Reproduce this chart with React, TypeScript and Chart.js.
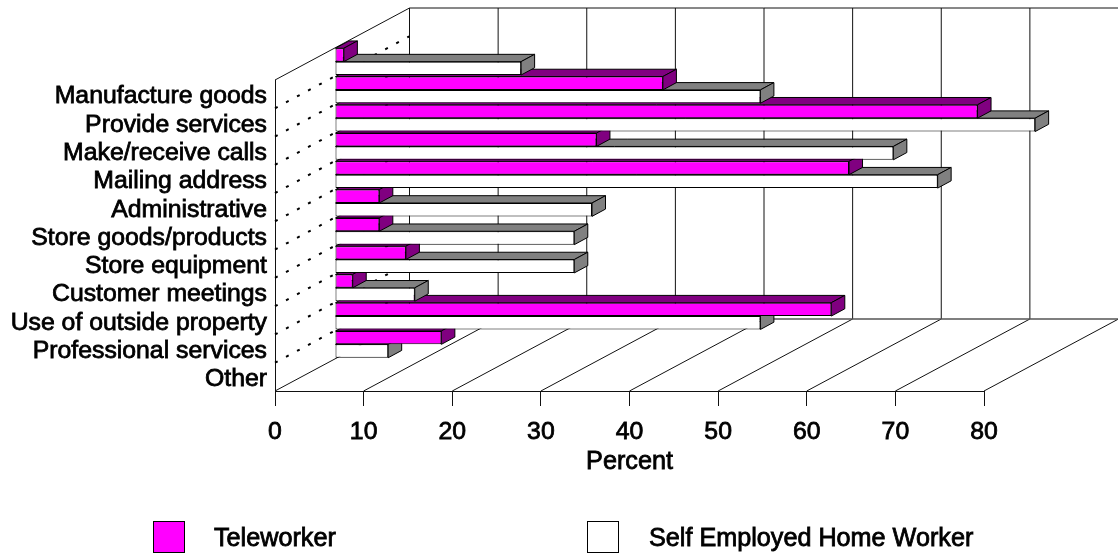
import React, { useEffect, useRef } from "react";
import { Chart, registerables } from "chart.js";

Chart.register(...registerables);

const categories = [
  "Manufacture goods",
  "Provide services",
  "Make/receive calls",
  "Mailing address",
  "Administrative",
  "Store goods/products",
  "Store equipment",
  "Customer meetings",
  "Use of outside property",
  "Professional services",
  "Other",
];
const teleworker = [1, 37, 72.5, 29.5, 58, 5, 5, 8, 2, 56, 12];
const selfEmployed = [21, 48, 79, 63, 68, 29, 27, 27, 9, 48, 6];
const seriesNames = ["Teleworker", "Self Employed Home Worker"];
const axisTitle = "Percent";
const xMax = 80;
const xStep = 10;

const FONT = "'Liberation Sans', Arial, sans-serif";
const FONT_SIZE = 24.8;
const TEXT_WEIGHT = 0.8;
const INK = "#000000";
const WALL_LINE = "#111111";
const TITLE_Y = 462.5;

// Oblique projection: how far the back wall sits from the front plane, and how
// far into that depth the bars are placed.
const DEPTH = { x: 134.5, y: -72 };
const BAR_SHIFT = { x: 60, y: -32.5 };
const BAR_DEPTH = { x: 13.5, y: -7.3 };

const faceColors = [
  { front: "#ff00ff", shade: "#800080" },
  { front: "#ffffff", shade: "#808080" },
];

function line(ctx: CanvasRenderingContext2D, x1: number, y1: number, x2: number, y2: number) {
  ctx.beginPath();
  ctx.moveTo(x1, y1);
  ctx.lineTo(x2, y2);
  ctx.stroke();
}

function face(ctx: CanvasRenderingContext2D, pts: number[][], fill: string) {
  ctx.beginPath();
  pts.forEach(([x, y], i) => (i ? ctx.lineTo(x, y) : ctx.moveTo(x, y)));
  ctx.closePath();
  ctx.fillStyle = fill;
  ctx.fill();
  ctx.strokeStyle = INK;
  ctx.lineWidth = 1;
  ctx.stroke();
}

const box3d = {
  id: "box3d",
  beforeDatasetsDraw(chart: any) {
    const { ctx, chartArea, scales } = chart;
    const { left, top, bottom } = chartArea;
    const backLeft = left + DEPTH.x;
    const backTop = top + DEPTH.y;
    const backBottom = bottom + DEPTH.y;

    ctx.save();
    ctx.strokeStyle = WALL_LINE;
    ctx.lineWidth = 1;

    // Left wall outline and the top edge of the back wall.
    line(ctx, left, top, backLeft, backTop);
    line(ctx, backLeft, backTop, chart.width, backTop);

    // Floor and back wall rulings, one per x tick.
    for (let v = 0; v <= xMax; v += xStep) {
      const px = scales.x.getPixelForValue(v);
      line(ctx, px, bottom, px + DEPTH.x, backBottom);
      if (v < xMax) line(ctx, px + DEPTH.x, backBottom, px + DEPTH.x, backTop);
    }
    ctx.strokeStyle = "#555555";
    ctx.lineWidth = 1.5;
    line(ctx, backLeft, backBottom, chart.width, backBottom);

    // Dashed category separators running across the left wall.
    ctx.strokeStyle = INK;
    ctx.lineWidth = 2;
    ctx.setLineDash([3, 9.5]);
    const rowHeight = (bottom - top) / categories.length;
    for (let k = 1; k < categories.length; k++) {
      const y = top + k * rowHeight;
      line(ctx, left, y, backLeft, y + DEPTH.y);
    }
    ctx.setLineDash([]);

    // Everything that belongs to the bars is shifted back to their depth.
    ctx.translate(BAR_SHIFT.x, BAR_SHIFT.y);
    const metas = [chart.getDatasetMeta(0), chart.getDatasetMeta(1)];
    for (let i = categories.length - 1; i >= 0; i--) {
      for (const ds of [1, 0]) {
        const bar = metas[ds].data[i];
        const t = bar.y - bar.height / 2;
        const b = bar.y + bar.height / 2;
        const dx = BAR_DEPTH.x;
        const dy = BAR_DEPTH.y;
        const shade = faceColors[ds].shade;
        face(ctx, [[bar.base, t], [bar.base + dx, t + dy], [bar.x + dx, t + dy], [bar.x, t]], shade);
        face(ctx, [[bar.x, t], [bar.x + dx, t + dy], [bar.x + dx, b + dy], [bar.x, b]], shade);
      }
    }
    // Left open until afterDatasetsDraw so the library's bars share the shift.
  },
  afterDatasetsDraw(chart: any) {
    chart.ctx.restore();
  },
  afterDraw(chart: any) {
    const { ctx } = chart;
    ctx.save();
    ctx.font = `25.2px ${FONT}`;
    ctx.textBaseline = "middle";
    ctx.strokeStyle = INK;

    // Axis title gets the same slight weight as the tick labels.
    ctx.lineWidth = TEXT_WEIGHT;
    ctx.textAlign = "center";
    ctx.strokeText(axisTitle, (chart.chartArea.left + chart.chartArea.right) / 2, TITLE_Y);
    ctx.textAlign = "left";

    // Legend row.
    const entries = [
      { swatch: 153, text: 214 },
      { swatch: 587, text: 649 },
    ];
    entries.forEach((e, i) => {
      ctx.fillStyle = faceColors[i].front;
      ctx.fillRect(e.swatch, 521.5, 31, 31);
      ctx.lineWidth = 1;
      ctx.strokeRect(e.swatch + 0.5, 521.5, 31, 31);
      ctx.lineWidth = TEXT_WEIGHT;
      ctx.fillStyle = INK;
      ctx.fillText(seriesNames[i], e.text, 539);
      ctx.strokeText(seriesNames[i], e.text, 539);
    });
    ctx.restore();
  },
};

export default function App() {
  const ref = useRef<HTMLCanvasElement>(null);

  useEffect(() => {
    document.body.style.margin = "0";
    document.body.style.background = "#ffffff";
    const chart = new Chart(ref.current!, {
      type: "bar",
      data: {
        labels: categories,
        datasets: [
          {
            label: seriesNames[0],
            data: teleworker,
            backgroundColor: faceColors[0].front,
            borderColor: INK,
            borderWidth: 1,
            borderSkipped: false,
            clip: false,
          },
          {
            label: seriesNames[1],
            data: selfEmployed,
            backgroundColor: faceColors[1].front,
            borderColor: INK,
            borderWidth: 1,
            borderSkipped: false,
            clip: false,
          },
        ],
      },
      options: {
        indexAxis: "y",
        responsive: false,
        animation: false,
        layout: { padding: { top: 80, right: 134, bottom: 0, left: 0 } },
        datasets: { bar: { categoryPercentage: 0.947, barPercentage: 1 } },
        plugins: { legend: { display: false }, tooltip: { enabled: false }, title: { display: false } },
        scales: {
          x: {
            type: "linear",
            min: 0,
            max: xMax,
            afterFit(scale: any) {
              scale.height = 162;
            },
            grid: { drawOnChartArea: false, drawTicks: true, tickLength: 15, color: WALL_LINE },
            border: { display: true, color: WALL_LINE },
            ticks: {
              stepSize: xStep,
              maxRotation: 0,
              autoSkip: false,
              padding: 11,
              color: INK,
              font: { family: FONT, size: FONT_SIZE },
              textStrokeColor: INK,
              textStrokeWidth: TEXT_WEIGHT,
            },
            title: {
              display: true,
              text: axisTitle,
              color: INK,
              font: { family: FONT, size: 25.2 },
              padding: { top: 0, bottom: 553 - TITLE_Y - 25.2 * 0.6 },
            },
          },
          y: {
            type: "category",
            afterFit(scale: any) {
              scale.width = 275;
            },
            grid: { display: false },
            border: { display: true, color: WALL_LINE },
            ticks: {
              padding: 0,
              labelOffset: 2.5,
              autoSkip: false,
              color: INK,
              font: { family: FONT, size: FONT_SIZE },
              textStrokeColor: INK,
              textStrokeWidth: TEXT_WEIGHT,
            },
          },
        },
      } as any,
      plugins: [box3d],
    });
    return () => chart.destroy();
  }, []);

  return <canvas ref={ref} width={1118} height={553} style={{ display: "block" }} />;
}
